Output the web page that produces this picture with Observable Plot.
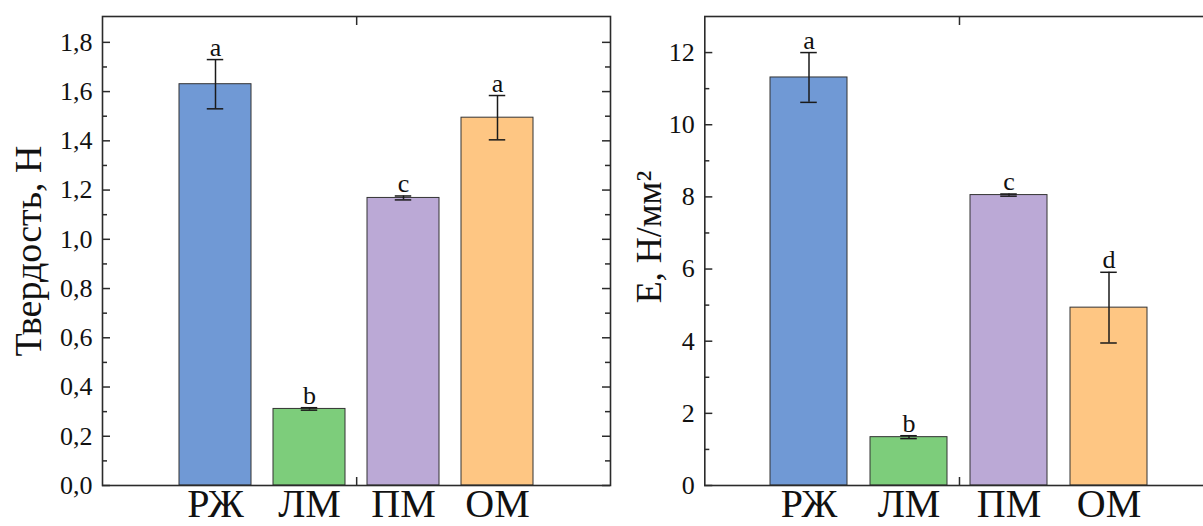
<!DOCTYPE html>
<html>
<head>
<meta charset="utf-8">
<script src="https://cdn.jsdelivr.net/npm/d3@7"></script>
<script src="https://cdn.jsdelivr.net/npm/@observablehq/plot@0.6"></script>
<style>
  html, body { margin: 0; padding: 0; background: #fff; overflow: hidden; }
  #wrap { position: relative; width: 1203px; height: 526px; overflow: hidden; background: #fff; }
  #left, #right { position: absolute; top: 0; }
  #left { left: 0; width: 620px; }
  #right { left: 620px; width: 600px; }
  #wrap svg { max-width: none !important; }
  #wrap svg text { font-family: 'Liberation Serif', 'Times New Roman', serif; }
</style>
</head>
<body>
<div id="wrap"><div id="left"></div><div id="right"></div></div>
<script>
// ---- data ----
const categories = ["РЖ", "ЛМ", "ПМ", "ОМ"];
const barColors = ["#7099d5", "#7dcd7b", "#bba9d6", "#fec683"];

const hardness = [1.63, 0.311, 1.168, 1.494];
const hardnessErr = [0.10, 0.005, 0.008, 0.09];
const hardnessLetters = ["a", "b", "c", "a"];
const hardnessTicks = [0, 0.2, 0.4, 0.6, 0.8, 1.0, 1.2, 1.4, 1.6, 1.8];
const hardnessMinor = [0.1, 0.3, 0.5, 0.7, 0.9, 1.1, 1.3, 1.5, 1.7];

const modulus = [11.31, 1.34, 8.05, 4.93];
const modulusErr = [0.69, 0.04, 0.03, 0.98];
const modulusLetters = ["a", "b", "c", "d"];
const modulusTicks = [0, 2, 4, 6, 8, 10, 12];
const modulusMinor = [1, 3, 5, 7, 9, 11];

const FONT = "'Liberation Serif', 'Times New Roman', serif";
const INK = "#2b2b2b";

function panel(cfg) {
  const {values, errs, letters, ticks, minor, yMax, fmt, title, titleDx, titleDy, titleSize,
         width, marginLeft, marginRight, paddingInner, paddingOuter} = cfg;
  const height = 526, marginTop = 16, marginBottom = 41;
  const W = width - marginLeft - marginRight;
  const H = height - marginTop - marginBottom;
  const step = W / (categories.length - paddingInner + 2 * paddingOuter);
  const bw = step * (1 - paddingInner);
  const capInset = (bw - 17) / 2;
  const data = categories.map((c, i) => ({cat: c, v: values[i], e: errs[i], letter: letters[i]}));

  return Plot.plot({
    width, height, marginLeft, marginRight, marginTop, marginBottom,
    style: `font-family: ${FONT}; color: #111; background: #fff; overflow: visible; max-width: none;`,
    x: {domain: categories, paddingInner, paddingOuter, axis: null},
    y: {domain: [0, yMax], axis: null},
    color: {domain: categories, range: barColors},
    marks: [
      Plot.barY(data, {x: "cat", y: "v", fill: "cat", stroke: "#333", strokeWidth: 1}),
      Plot.ruleX(data, {x: "cat", y1: d => d.v - d.e, y2: d => d.v + d.e, stroke: "#1a1a1a", strokeWidth: 1.5}),
      Plot.tickY(data, {x: "cat", y: d => d.v + d.e, insetLeft: capInset, insetRight: capInset, stroke: "#1a1a1a", strokeWidth: 1.5}),
      Plot.tickY(data, {x: "cat", y: d => d.v - d.e, insetLeft: capInset, insetRight: capInset, stroke: "#1a1a1a", strokeWidth: 1.5}),
      Plot.text(data, {x: "cat", y: d => d.v + d.e, text: "letter", lineAnchor: "bottom", dy: -4, fontSize: 26, fontFamily: FONT, fill: "#111"}),
      // inward y ticks, left and right
      Plot.tickY(ticks, {y: d => d, insetRight: W - 8, stroke: INK, strokeWidth: 1.5}),
      Plot.tickY(ticks, {y: d => d, insetLeft: W - 8, stroke: INK, strokeWidth: 1.5}),
      Plot.tickY(minor, {y: d => d, insetRight: W - 5, stroke: INK, strokeWidth: 1.5}),
      Plot.tickY(minor, {y: d => d, insetLeft: W - 5, stroke: INK, strokeWidth: 1.5}),
      // x tick between 2nd and 3rd categories, top and bottom
      Plot.tickX([categories[1]], {x: d => d, dx: step / 2, insetBottom: H - 9, stroke: INK, strokeWidth: 1.5}),
      Plot.tickX([categories[1]], {x: d => d, dx: step / 2, insetTop: H - 8, stroke: INK, strokeWidth: 1.5}),
      Plot.axisY({ticks, tickSize: 0, tickPadding: 10, tickFormat: fmt, fontSize: 26, fontFamily: FONT, label: null, fill: "#111"}),
      Plot.text(categories, {x: d => d, frameAnchor: "bottom", lineAnchor: "top", dy: 3, fontSize: 40, fontFamily: FONT, fill: "#111"}),
      Plot.text([title], {frameAnchor: "left", rotate: -90, dx: titleDx, dy: titleDy, lineAnchor: "middle", textAnchor: "middle", fontSize: titleSize, fontFamily: FONT, fill: "#111"}),
      Plot.frame({stroke: INK, strokeWidth: 1.6})
    ]
  });
}

document.getElementById("left").append(panel({
  values: hardness, errs: hardnessErr, letters: hardnessLetters,
  ticks: hardnessTicks, minor: hardnessMinor, yMax: 1.905,
  fmt: d => d.toFixed(1).replace(".", ","),
  title: "Твердость, Н", titleDx: -74, titleDy: 0, titleSize: 38,
  width: 620, marginLeft: 102, marginRight: 10,
  paddingInner: 0.231, paddingOuter: 0.808
}));

document.getElementById("right").append(panel({
  values: modulus, errs: modulusErr, letters: modulusLetters,
  ticks: modulusTicks, minor: modulusMinor, yMax: 13.0,
  fmt: d => String(d),
  title: "E, Н/мм²", titleDx: -55, titleDy: -14, titleSize: 36,
  width: 600, marginLeft: 84.3, marginRight: 7.3,
  paddingInner: 0.233, paddingOuter: 0.634
}));
</script>
</body>
</html>
